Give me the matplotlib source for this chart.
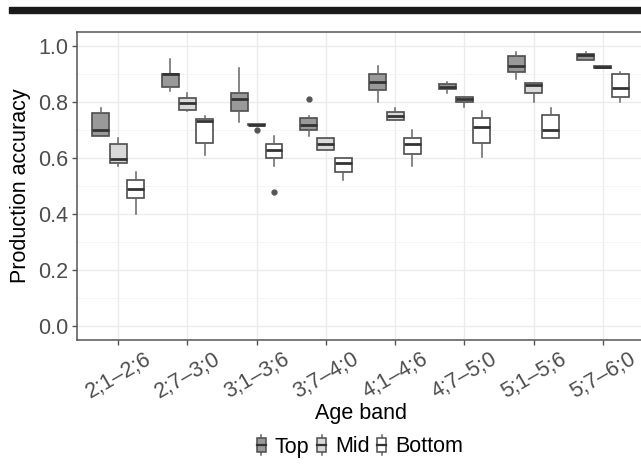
import matplotlib
matplotlib.use("Agg")
import matplotlib.pyplot as plt
from matplotlib.patches import Rectangle
from matplotlib.lines import Line2D
from matplotlib.legend_handler import HandlerBase
import numpy as np

plt.rcParams['font.family'] = ['Liberation Sans', 'DejaVu Sans']

age_bands = ["2;1–2;6", "2;7–3;0", "3;1–3;6", "3;7–4;0",
             "4;1–4;6", "4;7–5;0", "5;1–5;6", "5;7–6;0"]
groups = ["Top", "Mid", "Bottom"]
fills = {"Top": "#999999", "Mid": "#d9d9d9", "Bottom": "#ffffff"}

# Top
top_wlo = [0.678, 0.840, 0.731, 0.680, 0.802, 0.832, 0.883, 0.951]
top_q1  = [0.679, 0.855, 0.767, 0.699, 0.844, 0.848, 0.909, 0.951]
top_med = [0.701, 0.900, 0.812, 0.720, 0.871, 0.855, 0.930, 0.970]
top_q3  = [0.763, 0.902, 0.832, 0.742, 0.902, 0.864, 0.966, 0.973]
top_whi = [0.781, 0.953, 0.921, 0.750, 0.929, 0.872, 0.980, 0.980]
top_out = [[], [], [], [0.810], [], [], [], []]
# Mid
mid_wlo = [0.571, 0.770, 0.720, 0.628, 0.735, 0.782, 0.802, 0.921]
mid_q1  = [0.582, 0.774, 0.719, 0.628, 0.735, 0.800, 0.833, 0.922]
mid_med = [0.598, 0.796, 0.720, 0.651, 0.750, 0.811, 0.861, 0.926]
mid_q3  = [0.652, 0.814, 0.721, 0.671, 0.764, 0.820, 0.870, 0.929]
mid_whi = [0.672, 0.832, 0.721, 0.671, 0.781, 0.820, 0.870, 0.930]
mid_out = [[], [], [0.699], [], [], [], [], []]
# Bottom
bot_wlo = [0.402, 0.611, 0.571, 0.521, 0.573, 0.604, 0.673, 0.802]
bot_q1  = [0.457, 0.654, 0.601, 0.550, 0.615, 0.654, 0.673, 0.819]
bot_med = [0.491, 0.733, 0.631, 0.581, 0.651, 0.711, 0.701, 0.852]
bot_q3  = [0.522, 0.740, 0.651, 0.601, 0.671, 0.742, 0.755, 0.902]
bot_whi = [0.551, 0.750, 0.680, 0.601, 0.700, 0.770, 0.781, 0.909]
bot_out = [[], [], [0.480], [], [], [], [], []]

series = {
    "Top": (top_wlo, top_q1, top_med, top_q3, top_whi, top_out),
    "Mid": (mid_wlo, mid_q1, mid_med, mid_q3, mid_whi, mid_out),
    "Bottom": (bot_wlo, bot_q1, bot_med, bot_q3, bot_whi, bot_out),
}

FS = 15.5
fig = plt.figure(figsize=(6.41, 4.68), dpi=100)
W, H = 641, 468
# black bar at top
fig.patches.append(Rectangle((9 / W, 1 - 12.7 / H), (W - 9) / W, 5.7 / H,
                             transform=fig.transFigure, color="#1a1a1a", zorder=5))

ax = fig.add_axes([76.7 / W, 128 / H, (644.4 - 76.7) / W, 307.7 / H])

edge = "#4d4d4d"
offsets = {"Top": -0.25, "Mid": 0.0, "Bottom": 0.25}
xpos = np.arange(1, len(age_bands) + 1)
for g in groups:
    wlo, q1, med, q3, whi, out = series[g]
    stats = []
    for i in range(len(age_bands)):
        stats.append(dict(whislo=wlo[i], q1=q1[i], med=med[i], q3=q3[i],
                          whishi=whi[i], fliers=out[i]))
    ax.bxp(stats, positions=xpos + offsets[g], widths=0.245, patch_artist=True,
           showcaps=False, manage_ticks=False,
           boxprops=dict(facecolor=fills[g], edgecolor=edge, linewidth=1.2),
           medianprops=dict(color="#333333", linewidth=2.0),
           whiskerprops=dict(color="#666666", linewidth=1.1),
           flierprops=dict(marker='o', markerfacecolor="#555555",
                           markeredgecolor="#555555", markersize=3.5),
           zorder=3)

ax.set_xlim(0.4, 8.6)
ax.set_ylim(-0.05, 1.05)
ax.set_xticks(xpos)
ax.set_xticklabels(age_bands, rotation=30, ha='center', va='top')
ax.set_yticks([0.0, 0.2, 0.4, 0.6, 0.8, 1.0])
ax.set_yticklabels(["0.0", "0.2", "0.4", "0.6", "0.8", "1.0"])
ax.set_yticks([0.1, 0.3, 0.5, 0.7, 0.9], minor=True)
ax.tick_params(axis='both', which='major', labelsize=FS, labelcolor="#4d4d4d",
               color="#555555", length=3.5, width=1)
ax.tick_params(axis='x', pad=3)
ax.tick_params(axis='y', pad=2.5)
ax.tick_params(axis='y', which='minor', length=0)
ax.grid(which='major', color="#ebebeb", linewidth=1.0, zorder=0)
ax.grid(which='minor', axis='y', color="#f2f2f2", linewidth=0.6, zorder=0)
ax.set_axisbelow(True)
for s in ax.spines.values():
    s.set_color("#555555")
    s.set_linewidth(1.1)

ax.set_xlabel("Age band", fontsize=FS, labelpad=0)
ax.set_ylabel("Production accuracy", fontsize=FS, labelpad=5)


class BoxHandler(HandlerBase):
    def create_artists(self, legend, orig_handle, xdescent, ydescent,
                       width, height, fontsize, trans):
        fc = orig_handle.get_facecolor()
        cx = -xdescent + width / 2
        h = 15.0
        y0 = -ydescent + height / 2 - h / 2
        bw = width
        line = Line2D([cx, cx], [y0, y0 + h], color="#666666", lw=1.1, transform=trans)
        rect = Rectangle((cx - bw / 2, y0 + h * 0.18), bw, h * 0.64, facecolor=fc,
                         edgecolor=edge, lw=1.1, transform=trans)
        med = Line2D([cx - bw / 2, cx + bw / 2], [y0 + h / 2, y0 + h / 2],
                     color="#333333", lw=1.6, transform=trans)
        return [line, rect, med]


handles = [Rectangle((0, 0), 1, 1, facecolor=fills[g]) for g in groups]
fig.legend(handles, groups, handler_map={Rectangle: BoxHandler()},
           loc='center', bbox_to_anchor=(360 / W, 1 - 447 / H), ncol=3,
           frameon=False, fontsize=FS, handlelength=0.42, handletextpad=0.42,
           columnspacing=0.35, borderaxespad=0)

fig.savefig("out.png", dpi=100)
